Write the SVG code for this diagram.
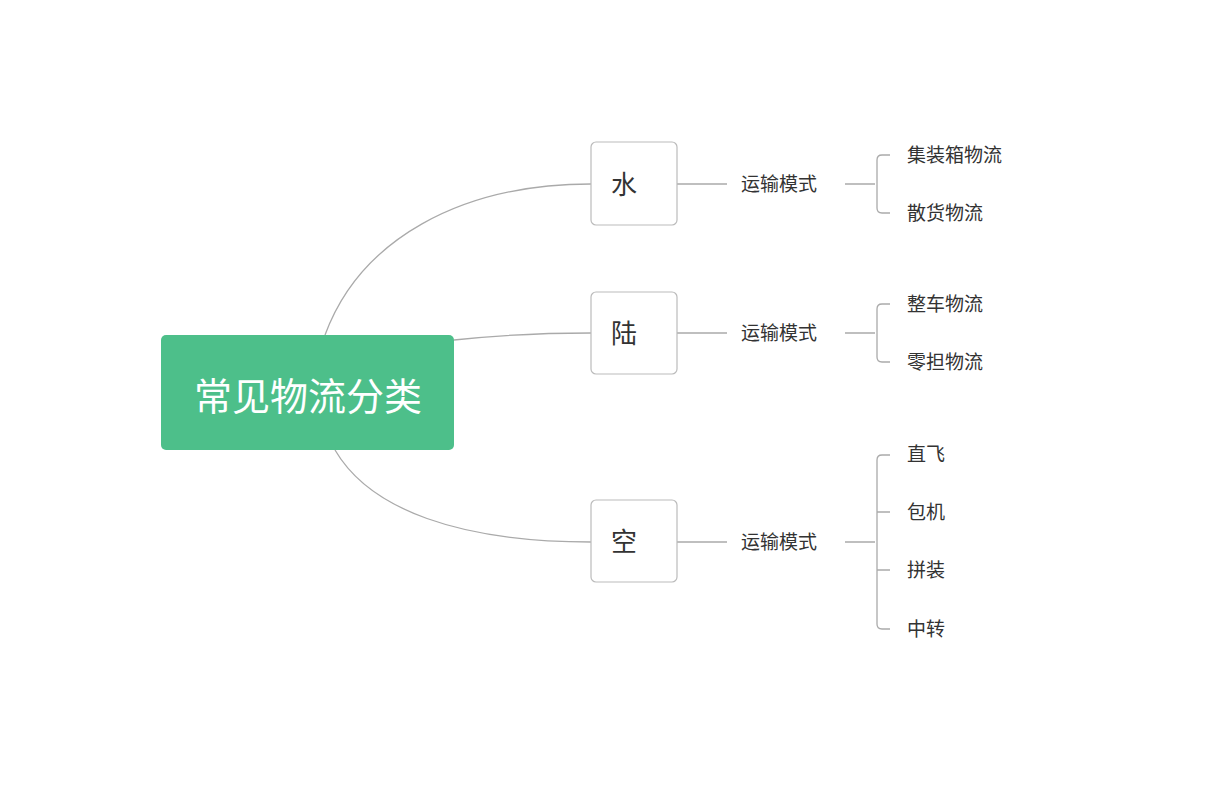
<svg xmlns="http://www.w3.org/2000/svg" width="1208" height="800" viewBox="0 0 1208 800">
<style>
.t{font-family:"Noto Sans CJK SC","Noto Sans",sans-serif;fill:#333}
.m{font-size:19px}
.b{fill:#fff;stroke:#bbb;stroke-width:1.2}
.c{fill:none;stroke:#aaa;stroke-width:1.3}
</style>
<rect width="1208" height="800" fill="#fff"/>
<g id="connectors">
<path class="c" d="M325,335 C360,240 460,184 591,184"/>
<path class="c" d="M454,340 C500,335 540,333 591,333"/>
<path class="c" d="M335,450 C370,510 460,542 591,542"/>
<path class="c" d="M677,184H727M845,184H875M890,155H882Q877,155 877,160V208Q877,213 882,213H890"/>
<path class="c" d="M677,333H727M845,333H875M890,304H882Q877,304 877,309V357Q877,362 882,362H890"/>
<path class="c" d="M677,542H727M845,542H875M890,455H882Q877,455 877,460V624Q877,629 882,629H890M877,512H890M877,570H890"/>
</g>
<g id="root"><rect x="161" y="335" width="293" height="115" rx="5" fill="#4dbf8a"/>
<text x="308" y="410" text-anchor="middle" font-size="38" font-family="Noto Sans CJK SC,sans-serif" fill="#fff">常见物流分类</text></g>
<g id="n-water"><rect class="b" x="591" y="142" width="86" height="83" rx="5"/><text class="t" x="624" y="194" text-anchor="middle" font-size="26">水</text></g>
<g id="n-land"><rect class="b" x="591" y="292" width="86" height="82" rx="5"/><text class="t" x="624" y="343" text-anchor="middle" font-size="26">陆</text></g>
<g id="n-air"><rect class="b" x="591" y="500" width="86" height="82" rx="5"/><text class="t" x="624" y="551" text-anchor="middle" font-size="26">空</text></g>
<g id="m1"><text class="t m" x="741" y="191">运输模式</text></g>
<g id="m2"><text class="t m" x="741" y="340">运输模式</text></g>
<g id="m3"><text class="t m" x="741" y="549">运输模式</text></g>
<g id="l1"><text class="t m" x="907" y="162">集装箱物流</text></g>
<g id="l2"><text class="t m" x="907" y="220">散货物流</text></g>
<g id="l3"><text class="t m" x="907" y="311">整车物流</text></g>
<g id="l4"><text class="t m" x="907" y="369">零担物流</text></g>
<g id="l5"><text class="t m" x="907" y="461">直飞</text></g>
<g id="l6"><text class="t m" x="907" y="519">包机</text></g>
<g id="l7"><text class="t m" x="907" y="577">拼装</text></g>
<g id="l8"><text class="t m" x="907" y="636">中转</text></g>
</svg>
